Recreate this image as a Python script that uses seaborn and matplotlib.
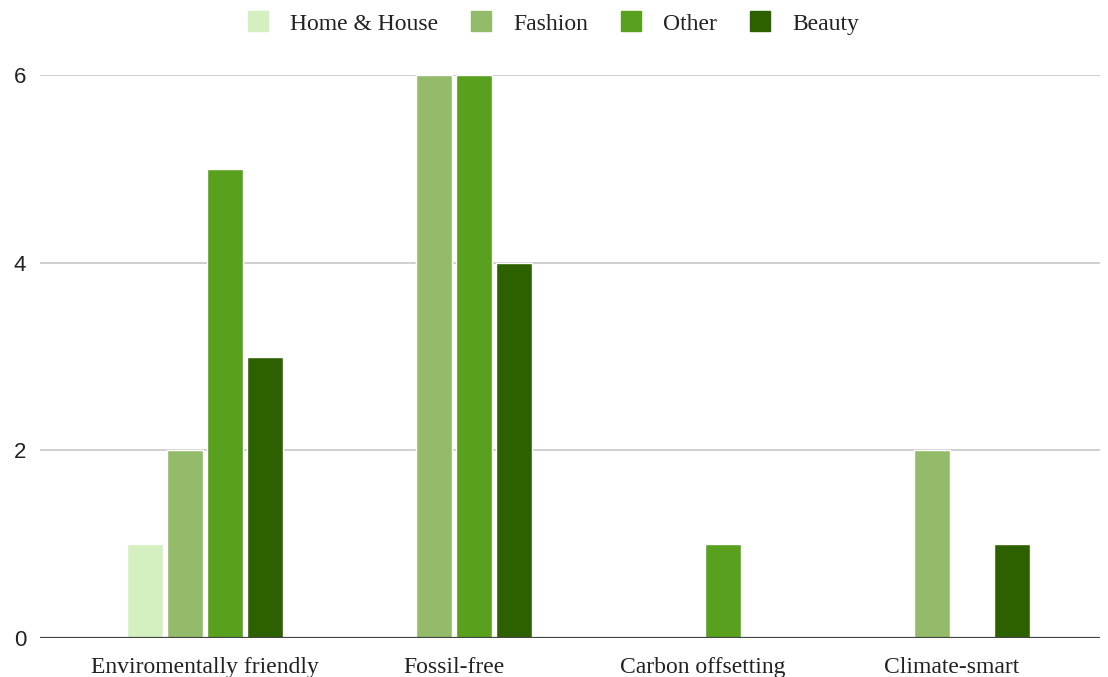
import pandas as pd
import numpy as np
import matplotlib.pyplot as plt
import seaborn as sns
from matplotlib.lines import Line2D

# Data
categories = ["Enviromentally friendly", "Fossil-free", "Carbon offsetting", "Climate-smart"]
series = ["Home & House", "Fashion", "Other", "Beauty"]
home_house = [1, 0, 0, 0]
fashion = [2, 6, 0, 2]
other = [5, 6, 1, 0]
beauty = [3, 4, 0, 1]
colors = ["#d5f0c0", "#93bb6a", "#58a01e", "#2d6100"]

df = pd.DataFrame({
    "Category": categories * 4,
    "Series": np.repeat(series, 4),
    "Value": home_house + fashion + other + beauty,
})

sns.set_theme(style="white")
plt.rcParams["font.family"] = ["Liberation Serif", "DejaVu Serif"]

fig = plt.figure(figsize=(11.08, 6.77), dpi=100)
ax = fig.add_axes([40 / 1108, 39 / 677, 1060 / 1108, (638 - 75) / 677])

sns.barplot(data=df, x="Category", y="Value", hue="Series", hue_order=series,
            palette=colors, width=0.64, gap=0.1, saturation=1, ax=ax, legend=False)

ax.set_xlim(-0.663, 3.594)
ax.set_ylim(0, 6)
ax.set_yticks([0, 2, 4, 6])
for y in [2, 4, 6]:
    ax.axhline(y, color="#cccccc", linewidth=1.3, zorder=0)
ax.axhline(0, color="#444444", linewidth=1.6, zorder=3)
for s in ax.spines.values():
    s.set_visible(False)
ax.tick_params(axis="both", length=0)
ax.tick_params(axis="y", pad=10)
ax.tick_params(axis="x", pad=14)
for lbl in ax.get_yticklabels():
    lbl.set_fontfamily(["Liberation Sans", "DejaVu Sans"])
    lbl.set_fontsize(16)
    lbl.set_color("#222222")
for lbl in ax.get_xticklabels():
    lbl.set_fontsize(17)
    lbl.set_color("#222222")
ax.set_xlabel("")
ax.set_ylabel("")

handles = [Line2D([0], [0], marker="s", linestyle="", markersize=14,
                  markerfacecolor=c, markeredgecolor=c) for c in colors]
leg = fig.legend(handles, series, loc="upper center", bbox_to_anchor=(0.4987, 1.012),
                 ncol=4, frameon=False, fontsize=17, handlelength=1.0,
                 handletextpad=0.88, columnspacing=1.3)
for t in leg.get_texts():
    t.set_color("#222222")

fig.savefig("out.png", dpi=100)
